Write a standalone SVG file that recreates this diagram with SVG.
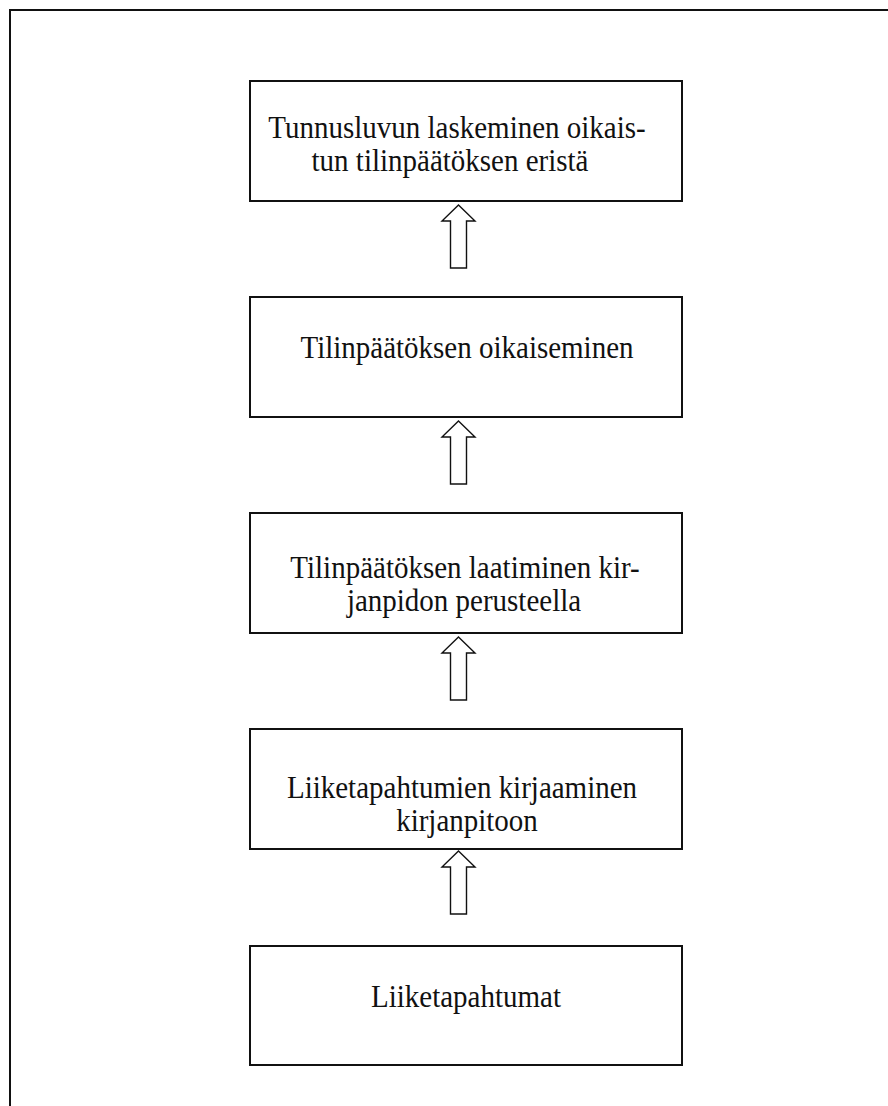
<svg xmlns="http://www.w3.org/2000/svg" width="888" height="1106" viewBox="0 0 888 1106">
  <style>
    .frame { fill: none; stroke: #111; stroke-width: 2; }
    .box { fill: #fff; stroke: #111; stroke-width: 2; }
    .arrow { fill: #fff; stroke: #111; stroke-width: 1.4; stroke-linejoin: miter; }
    .lbl { font-family: "Liberation Serif", "Times New Roman", serif; font-size: 29px; fill: #111; text-anchor: middle; }
  </style>
  <defs>
    <!-- hollow block arrow pointing up; origin at the tip -->
    <path id="upArrow" class="arrow" d="M0,0 L16.5,16 L8,16 L8,63 L-8,63 L-8,16 L-16.5,16 Z"/>
  </defs>
  <rect width="888" height="1106" fill="#fff"/>

  <!-- page border (open to the right and bottom) -->
  <path class="frame" d="M10,1106 V10 H888"/>

  <!-- upward arrows between steps -->
  <g id="connectors">
    <use href="#upArrow" transform="translate(458.5,205)"/>
    <use href="#upArrow" transform="translate(458.5,421)"/>
    <use href="#upArrow" transform="translate(458.5,637)"/>
    <use href="#upArrow" transform="translate(458.5,851)"/>
  </g>

  <g id="step5">
    <rect class="box" x="250" y="81" width="432" height="120"/>
    <g transform="translate(457,138) scale(1,1.1)"><text class="lbl" x="0" y="0">Tunnusluvun laskeminen oikais-</text></g>
    <g transform="translate(450,171) scale(1,1.1)"><text class="lbl" x="0" y="0">tun tilinpäätöksen eristä</text></g>
  </g>

  <g id="step4">
    <rect class="box" x="250" y="297" width="432" height="120"/>
    <g transform="translate(467,358) scale(1,1.1)"><text class="lbl" x="0" y="0">Tilinpäätöksen oikaiseminen</text></g>
  </g>

  <g id="step3">
    <rect class="box" x="250" y="513" width="432" height="120"/>
    <g transform="translate(465,578) scale(1,1.1)"><text class="lbl" x="0" y="0">Tilinpäätöksen laatiminen kir-</text></g>
    <g transform="translate(464,611) scale(1,1.1)"><text class="lbl" x="0" y="0">janpidon perusteella</text></g>
  </g>

  <g id="step2">
    <rect class="box" x="250" y="729" width="432" height="120"/>
    <g transform="translate(462,798) scale(1,1.1)"><text class="lbl" x="0" y="0">Liiketapahtumien kirjaaminen</text></g>
    <g transform="translate(467,831) scale(1,1.1)"><text class="lbl" x="0" y="0">kirjanpitoon</text></g>
  </g>

  <g id="step1">
    <rect class="box" x="250" y="946" width="432" height="119"/>
    <g transform="translate(466,1007) scale(1,1.1)"><text class="lbl" x="0" y="0">Liiketapahtumat</text></g>
  </g>
</svg>
